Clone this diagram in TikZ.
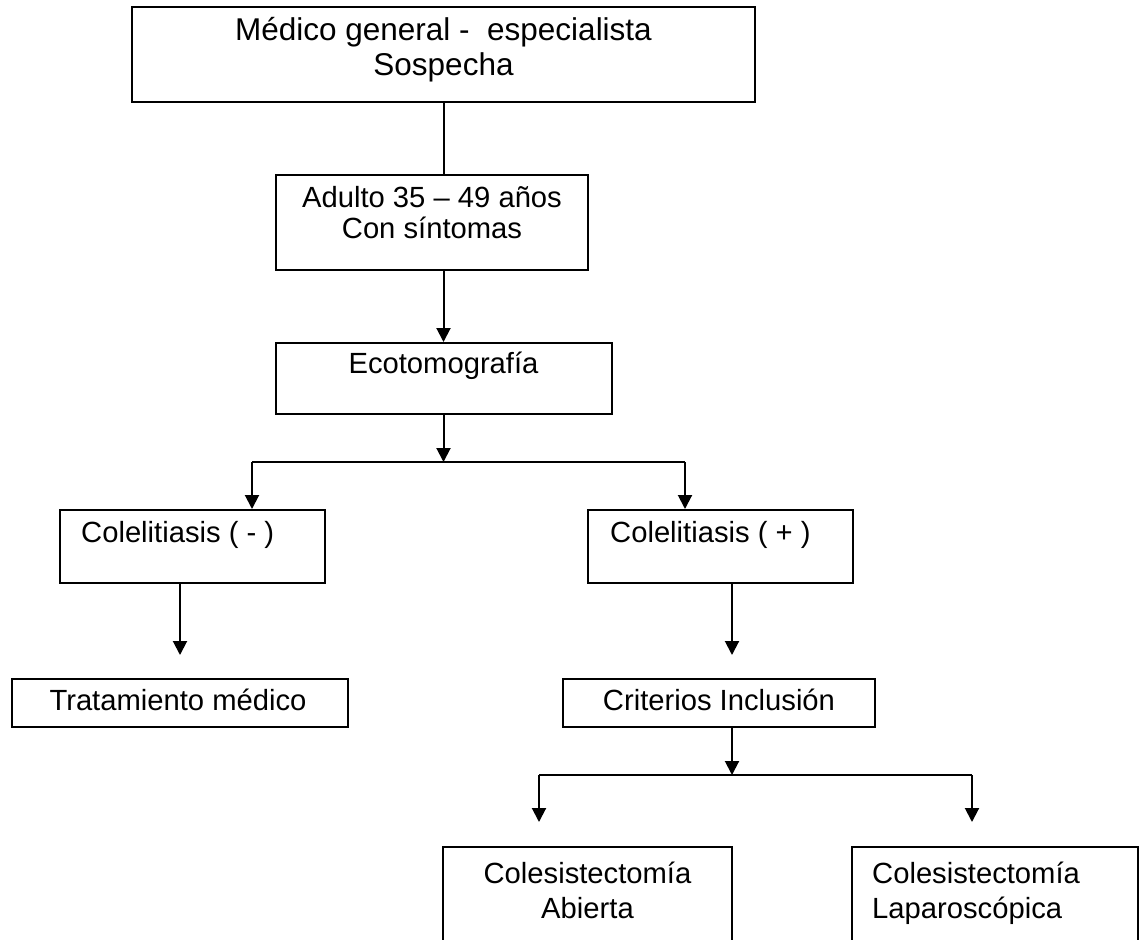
\documentclass[tikz,border=0pt]{standalone}
\usepackage{fontspec}
\setmainfont{Liberation Sans}
\usetikzlibrary{arrows.meta}
\tikzset{
  box/.style={draw=black, line width=2pt, rectangle, inner sep=0pt},
  txt/.style={inner sep=0pt, font=\fontsize{29.2}{33}\selectfont},
  bigtxt/.style={inner sep=0pt, font=\fontsize{31.5}{35}\selectfont},
  conn/.style={line width=2pt, draw=black},
  arr/.style={conn, -{Triangle[length=14pt,width=14pt]}}
}
\begin{document}
\begin{tikzpicture}[x=1pt,y=-1pt]
\useasboundingbox (0,0) rectangle (1141,940);
% boxes
\node[box, minimum width=623pt, minimum height=95pt] (b1) at (443.5,54.5) {};
\node[box, minimum width=312pt, minimum height=95pt] (b2) at (432,222.5) {};
\node[box, minimum width=336pt, minimum height=71pt] (b3) at (444,378.5) {};
\node[box, minimum width=265pt, minimum height=73pt] (b4) at (192.5,546.5) {};
\node[box, minimum width=265pt, minimum height=73pt] (b5) at (720.5,546.5) {};
\node[box, minimum width=336pt, minimum height=48pt] (b6) at (180,703) {};
\node[box, minimum width=312pt, minimum height=48pt] (b7) at (719,703) {};
\node[box, minimum width=289pt, minimum height=113pt] (b8) at (587.5,903.5) {};
\node[box, minimum width=286pt, minimum height=113pt] (b9) at (995,903.5) {};
% texts
\node[bigtxt, anchor=base] (t1a) at (443.5,40) {Médico general -\ \ especialista};
\node[bigtxt, anchor=base] (t1b) at (443.5,75) {Sospecha};
\node[txt, anchor=base] (t2a) at (432,207) {Adulto 35 – 49 años};
\node[txt, anchor=base] (t2b) at (432,238) {Con síntomas};
\node[txt, anchor=base] (t3) at (443.5,373) {Ecotomografía};
\node[txt, anchor=base west] (t4) at (81,542) {Colelitiasis ( - )};
\node[txt, anchor=base west] (t5) at (610,542) {Colelitiasis ( + )};
\node[txt, anchor=base] (t6) at (178,710) {Tratamiento médico};
\node[txt, anchor=base] (t7) at (719,710) {Criterios Inclusión};
\node[txt, anchor=base] (t8a) at (587.5,883) {Colesistectomía};
\node[txt, anchor=base] (t8b) at (587.5,918) {Abierta};
\node[txt, anchor=base west] (t9a) at (872,883) {Colesistectomía};
\node[txt, anchor=base west] (t9b) at (872,918) {Laparoscópica};
% junction coordinates
\coordinate (j1) at (443.5,462);
\coordinate (j1l) at (252,462);
\coordinate (j1r) at (685,462);
\coordinate (a6) at (180,655);
\coordinate (a7) at (732,655);
\coordinate (j2) at (732,775);
\coordinate (j2l) at (539,775);
\coordinate (j2r) at (972,775);
\coordinate (a8) at (539,822);
\coordinate (a9) at (972,822);
% connectors
\draw[conn] (b1.south) -- (b1.south |- b2.north);
\draw[arr] (b1.south |- b2.south) -- (b1.south |- b3.north);
\draw[arr] (j1 |- b3.south) -- (j1);
\draw[conn] (j1l) -- (j1r);
\draw[arr] (j1l) -- (j1l |- b4.north);
\draw[arr] (j1r) -- (j1r |- b5.north);
\draw[arr] (a6 |- b4.south) -- (a6);
\draw[arr] (a7 |- b5.south) -- (a7);
\draw[arr] (j2 |- b7.south) -- (j2);
\draw[conn] (j2l) -- (j2r);
\draw[arr] (j2l) -- (a8);
\draw[arr] (j2r) -- (a9);
\end{tikzpicture}
\end{document}
